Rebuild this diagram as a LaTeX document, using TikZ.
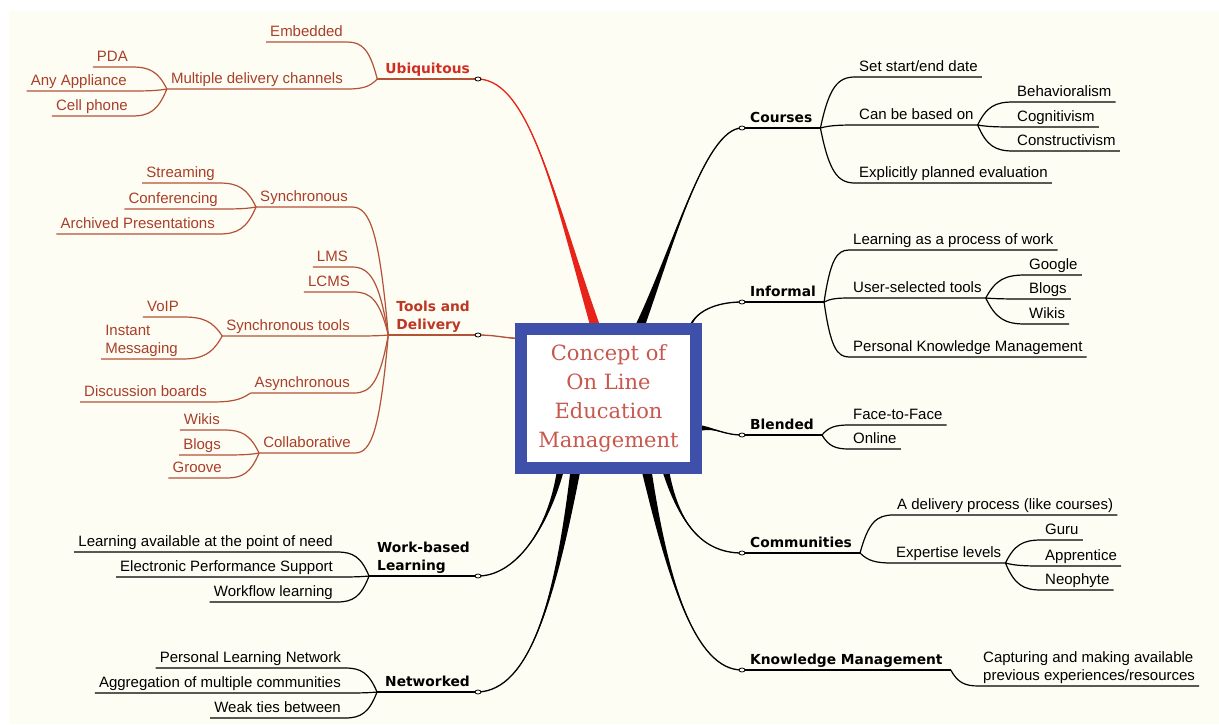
\documentclass[tikz,border=0pt]{standalone}
\usepackage{fontspec}
\setmainfont{Liberation Sans}
\newfontfamily\topicfont{DejaVu Sans}
\newfontfamily\hubfont{DejaVu Serif}
\usetikzlibrary{calc,backgrounds}

\definecolor{paper}{RGB}{253,253,243}
\definecolor{rust}{RGB}{170,62,42}
\definecolor{rustline}{RGB}{180,82,56}
\definecolor{ubired}{RGB}{210,45,35}
\definecolor{toolred}{RGB}{188,56,36}
\definecolor{limbred}{RGB}{232,35,25}
\definecolor{hubblue}{RGB}{62,80,170}
\definecolor{hubred}{RGB}{200,88,78}

% tapered main branch: colour, root, control 1, control 2, end, half width
\newcommand{\limb}[6]{%
  \fill[#1] ($#2-(#6)$) .. controls #3 and #4 .. #5
    .. controls #4 and #3 .. ($#2+(#6)$) -- cycle;
  \draw[#1, line width=1.3pt] #2 .. controls #3 and #4 .. #5;}

\begin{document}
\begin{tikzpicture}[x=1pt, y=-1pt,
    % plain sub-topics, underline = south edge
    leaf/.style={font=\fontsize{15}{18}\selectfont, inner xsep=4pt, inner ysep=3pt, text depth=2pt, align=left},
    lleaf/.style={leaf, anchor=south east},
    rustleaf/.style={lleaf, text=rust},
    rleaf/.style={leaf, anchor=south west},
    % bold main topics
    topic/.style={font=\topicfont\bfseries\fontsize{13.8}{18.5}\selectfont, inner xsep=8pt, inner ysep=3pt, text depth=2pt, align=left},
    ltopic/.style={topic, anchor=south east},
    rtopic/.style={topic, anchor=south west},
    rline/.style={draw=rustline, line width=1.2pt},
    bline/.style={draw=black, line width=1.2pt},
    knob/.style={draw=black, fill=paper, line width=0.8pt},
    hub/.style={draw=hubblue, line width=12pt, fill=white, minimum width=175pt, minimum height=139pt,
      inner sep=0pt, align=center, text=hubred, font=\hubfont\fontsize{21}{29}\selectfont},
    % curve that leaves the junction steeply and lands flat on the child
    fan/.style={to path={let \p1=(\tikztostart), \p2=(\tikztotarget) in
      .. controls ({\x1+0.25*(\x2-\x1)},{\y1+0.8*(\y2-\y1)}) and ({0.5*(\x1+\x2)},\y2) .. (\tikztotarget) \tikztonodes}}
  ]
  \useasboundingbox (0,0) rectangle (1219,724);

  % centre
  \node[hub] (ctr) at (608.5,398.5) {Concept of\\On Line\\Education\\Management};

  % main topics
  \node[ltopic, text=ubired] (ubiq) at (478,79) {Ubiquitous};
  \node[ltopic, text=toolred] (tools) at (478,335) {Tools and\\Delivery};
  \node[ltopic] (work) at (478,576) {Work-based\\Learning};
  \node[ltopic] (net) at (478,692) {Networked};
  \node[rtopic] (courses) at (742,128) {Courses};
  \node[rtopic] (informal) at (742,302) {Informal};
  \node[rtopic] (blended) at (742,435) {Blended};
  \node[rtopic] (comm) at (742,553) {Communities};
  \node[rtopic] (km) at (742,670) {Knowledge Management};

  % Ubiquitous
  \node[rustleaf] (emb) at (347,42) {Embedded};
  \node[rustleaf] (multi) at (347,89) {Multiple delivery channels};
  \node[rustleaf] (pda) at (132,67) {PDA};
  \node[rustleaf] (anyapp) at (131,91) {Any Appliance};
  \node[rustleaf] (cell) at (132,116) {Cell phone};

  % Tools and Delivery
  \node[rustleaf] (sync) at (352,207) {Synchronous};
  \node[rustleaf] (stream) at (219,183) {Streaming};
  \node[rustleaf] (conf) at (222,209) {Conferencing};
  \node[rustleaf] (arch) at (219,234) {Archived Presentations};
  \node[rustleaf] (lms) at (352,267) {LMS};
  \node[rustleaf] (lcms) at (354,292) {LCMS};
  \node[rustleaf] (synct) at (354,336) {Synchronous tools};
  \node[rustleaf] (voip) at (183,317) {VoIP};
  \node[rustleaf] (im) at (182,359) {Instant\\Messaging};
  \node[rustleaf] (async) at (354,393) {Asynchronous};
  \node[rustleaf] (disc) at (211,402) {Discussion boards};
  \node[rustleaf] (collab) at (355,453) {Collaborative};
  \node[rustleaf] (wikl) at (224,430) {Wikis};
  \node[rustleaf] (blgl) at (225,455) {Blogs};
  \node[rustleaf] (groove) at (226,478) {Groove};

  % Work-based Learning, Networked
  \node[lleaf] (avail) at (337,552) {Learning available at the point of need};
  \node[lleaf] (eps) at (337,577) {Electronic Performance Support};
  \node[lleaf] (wflow) at (337,602) {Workflow learning};
  \node[lleaf] (pln) at (345,668) {Personal Learning Network};
  \node[lleaf] (aggr) at (345,693) {Aggregation of multiple communities};
  \node[lleaf] (weak) at (345,718) {Weak ties between};

  % Courses, Informal
  \node[rleaf] (setdate) at (855,77) {Set start/end date};
  \node[rleaf] (basedon) at (855,125) {Can be based on};
  \node[rleaf] (evalu) at (855,183) {Explicitly planned evaluation};
  \node[rleaf] (behav) at (1013,102) {Behavioralism};
  \node[rleaf] (cogn) at (1013,127) {Cognitivism};
  \node[rleaf] (constr) at (1013,151) {Constructivism};
  \node[rleaf] (lproc) at (849,250) {Learning as a process of work};
  \node[rleaf] (usersel) at (849,298) {User-selected tools};
  \node[rleaf] (pkm) at (849,357) {Personal Knowledge Management};
  \node[rleaf] (google) at (1025,275) {Google};
  \node[rleaf] (blgr) at (1025,299) {Blogs};
  \node[rleaf] (wikr) at (1025,324) {Wikis};

  % Blended, Communities, Knowledge Management
  \node[rleaf] (f2f) at (849,425) {Face-to-Face};
  \node[rleaf] (online) at (849,449) {Online};
  \node[rleaf] (deliv) at (893,515) {A delivery process (like courses)};
  \node[rleaf] (expert) at (892,563) {Expertise levels};
  \node[rleaf] (guru) at (1041,540) {Guru};
  \node[rleaf] (appr) at (1041,566) {Apprentice};
  \node[rleaf] (neo) at (1041,590) {Neophyte};
  \node[rleaf] (capt) at (979,686) {Capturing and making available\\previous experiences/resources};

  % roots of the main branches under the box
  \coordinate (ubiqroot) at ($(ctr.north)+(-13,4)$);
  \coordinate (crsroot) at ($(ctr.north)+(31,4)$);
  \coordinate (infroot) at ($(ctr.north east)+(-12,4)$);
  \coordinate (blnroot) at ($(ctr.east)+(0,29.5)$);
  \coordinate (comroot) at ($(ctr.south)+(57,-4)$);
  \coordinate (kmroot) at ($(ctr.south)+(38,-4)$);
  \coordinate (wrkroot) at ($(ctr.south)+(-48,-4)$);
  \coordinate (netroot) at ($(ctr.south)+(-33,-4)$);
  \coordinate (tlsroot) at ($(ctr.west)+(4,-60)$);

  \begin{scope}[on background layer]
    \fill[white] (0,0) rectangle (1219,724);
    \fill[paper] (9,11) rectangle (1219,724);
    \limb{limbred}{(ubiqroot)}{(555,200)}{(530,80)}{(ubiq.south east)}{5,0}
    \limb{rustline}{(tlsroot)}{(505,338)}{(495,335)}{(tools.south east)}{0,1}
    \limb{black}{(wrkroot)}{(548,530)}{(515,576)}{(work.south east)}{3.5,0}
    \limb{black}{(netroot)}{(555,600)}{(530,690)}{(net.south east)}{5,0}
    \limb{black}{(crsroot)}{(672,250)}{(705,128)}{(courses.south west)}{5,0}
    \limb{black}{(infroot)}{(695,312)}{(715,302)}{(informal.south west)}{1.5,0}
    \limb{black}{(blnroot)}{(715,428)}{(725,435)}{(blended.south west)}{0,2.5}
    \limb{black}{(comroot)}{(678,520)}{(700,553)}{(comm.south west)}{3.5,0}
    \limb{black}{(kmroot)}{(668,580)}{(695,670)}{(km.south west)}{5,0}
  \end{scope}

  % left side
  \draw[rline] (ubiq.south west) -- (ubiq.south east);
  \foreach \c in {emb,multi} \draw[rline] (ubiq.south west) to[fan] (\c.south east) -- (\c.south west);
  \foreach \c in {pda,anyapp,cell} \draw[rline] (multi.south west) to[fan] (\c.south east) -- (\c.south west);
  \draw[rline] (tools.south west) -- (tools.south east);
  \foreach \c in {sync,lms,lcms,synct,async,collab} \draw[rline] (tools.south west) to[fan] (\c.south east) -- (\c.south west);
  \foreach \c in {stream,conf,arch} \draw[rline] (sync.south west) to[fan] (\c.south east) -- (\c.south west);
  \foreach \c in {voip,im} \draw[rline] (synct.south west) to[fan] (\c.south east) -- (\c.south west);
  \draw[rline] (async.south west) to[fan] (disc.south east) -- (disc.south west);
  \foreach \c in {wikl,blgl,groove} \draw[rline] (collab.south west) to[fan] (\c.south east) -- (\c.south west);
  \draw[bline] (work.south west) -- (work.south east);
  \foreach \c in {avail,eps,wflow} \draw[bline] (work.south west) to[fan] (\c.south east) -- (\c.south west);
  \draw[bline] (net.south west) -- (net.south east);
  \foreach \c in {pln,aggr,weak} \draw[bline] (net.south west) to[fan] (\c.south east) -- (\c.south west);

  % right side
  \foreach \t in {courses,informal,blended,comm,km} \draw[bline] (\t.south west) -- (\t.south east);
  \foreach \c in {setdate,basedon,evalu} \draw[bline] (courses.south east) to[fan] (\c.south west) -- (\c.south east);
  \foreach \c in {behav,cogn,constr} \draw[bline] (basedon.south east) to[fan] (\c.south west) -- (\c.south east);
  \foreach \c in {lproc,usersel,pkm} \draw[bline] (informal.south east) to[fan] (\c.south west) -- (\c.south east);
  \foreach \c in {google,blgr,wikr} \draw[bline] (usersel.south east) to[fan] (\c.south west) -- (\c.south east);
  \foreach \c in {f2f,online} \draw[bline] (blended.south east) to[fan] (\c.south west) -- (\c.south east);
  \foreach \c in {deliv,expert} \draw[bline] (comm.south east) to[fan] (\c.south west) -- (\c.south east);
  \foreach \c in {guru,appr,neo} \draw[bline] (expert.south east) to[fan] (\c.south west) -- (\c.south east);
  \draw[bline] (km.south east) to[fan] (capt.south west) -- (capt.south east);

  % small knobs where the main branches meet
  \foreach \k in {ubiq.south east,tools.south east,work.south east,net.south east,
      courses.south west,informal.south west,blended.south west,comm.south west,km.south west}
    \path[knob] (\k) ellipse (3pt and 2pt);
\end{tikzpicture}
\end{document}
